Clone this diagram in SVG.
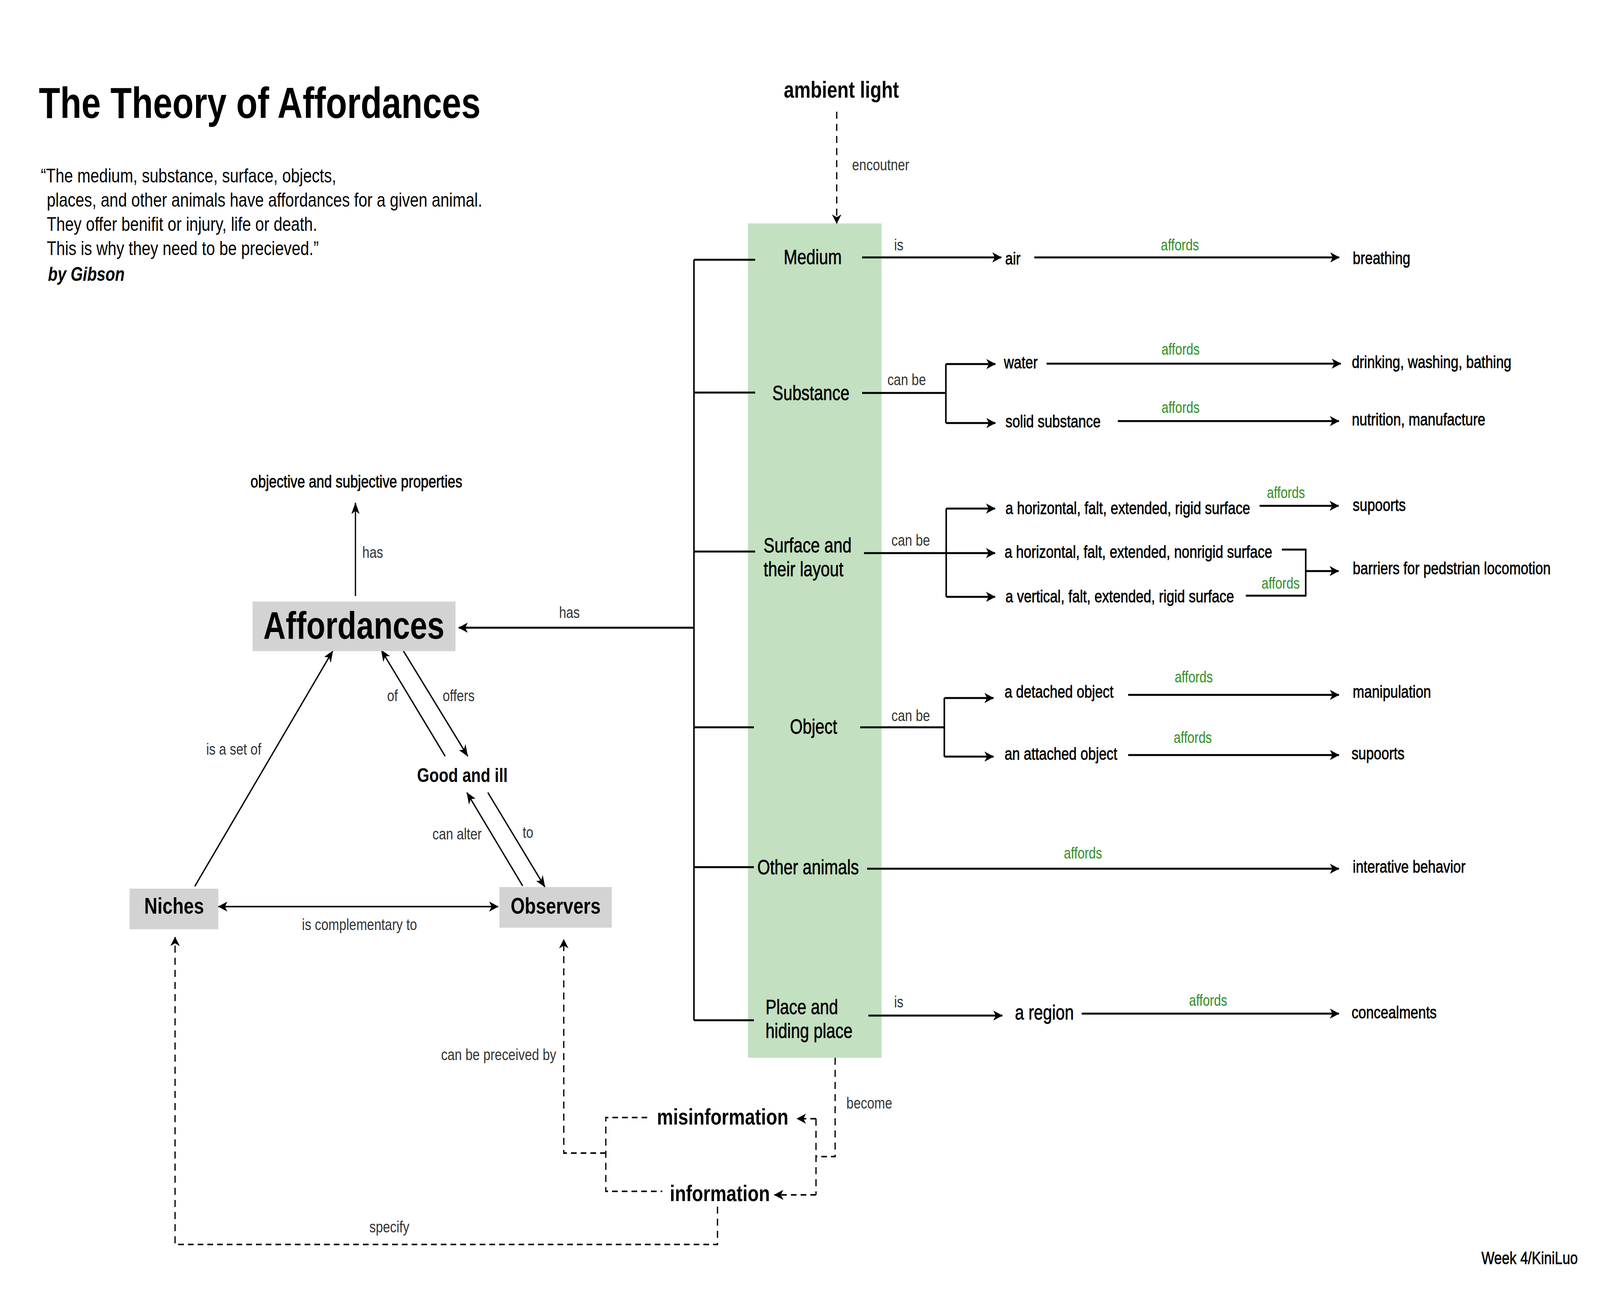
<svg xmlns="http://www.w3.org/2000/svg" width="5100" height="3300" viewBox="0 0 5100 3300" preserveAspectRatio="none">
<style>
:root{width:100vw;height:100vh;}
text{font-family:"Liberation Sans",Arial,Helvetica,sans-serif;}
.title{font-size:111px;font-weight:bold;fill:#000;}
.quote{font-size:50px;fill:#000;}
.node{font-size:44px;fill:#000;stroke:#000;stroke-width:0.9;}
.gn{font-size:52px;fill:#000;stroke:#000;stroke-width:0.9;}
.big{font-weight:bold;fill:#000;}
.lbl{font-size:41px;fill:#333;}
.aff{font-size:40px;fill:#2f8f24;text-anchor:middle;}
.mid{text-anchor:middle;}
.ln{stroke:#000;stroke-width:5;fill:none;}
.tl{stroke:#000;stroke-width:4;fill:none;}
.dl{stroke:#000;stroke-width:4;fill:none;stroke-dasharray:18 13;}
.box{fill:#d3d3d3;}
</style>
<defs>
<marker id="arr" viewBox="0 0 30 26" refX="29" refY="13" markerWidth="30" markerHeight="26" orient="auto-start-reverse" markerUnits="userSpaceOnUse">
<path d="M0,0 L30,13 L0,26 L8,13 Z" fill="#000"/>
</marker>
<marker id="arrs" viewBox="0 0 24 30" refX="23" refY="15" markerWidth="24" markerHeight="30" orient="auto-start-reverse" markerUnits="userSpaceOnUse">
<path d="M0,0 L24,15 L0,30 L7,15 Z" fill="#000"/>
</marker>
</defs>
<rect width="5100" height="3300" fill="#fff"/>

<g id="title">
<text class="title" x="124" y="302">The Theory of Affordances</text>
</g>
<g id="quote">
<text class="quote" x="130" y="467">“The medium, substance, surface, objects,</text>
<text class="quote" x="149" y="529">places, and other animals have affordances for a given animal.</text>
<text class="quote" x="149" y="591">They offer benifit or injury, life or death.</text>
<text class="quote" x="149" y="653">This is why they need to be precieved.”</text>
<text class="quote" x="153" y="719" font-weight="bold" font-style="italic">by Gibson</text>
</g>

<rect id="green-column" x="2384" y="572" width="426" height="2136" fill="#c3e0c1"/>

<g id="connectors">
<path class="dl" d="M2667,286 V572" marker-end="url(#arrs)"/>
<path class="ln" d="M2212,665 V2612"/>
<path class="ln" d="M2212,665 H2407 M2212,1005 H2407 M2212,1412 H2407 M2212,1862 H2403 M2212,2220 H2403 M2212,2612 H2403"/>
<path class="ln" d="M2212,1607 H1462" marker-end="url(#arr)"/>
<path class="ln" d="M2748,659 H3192" marker-end="url(#arr)"/>
<path class="ln" d="M3297,659 H4269" marker-end="url(#arr)"/>
<path class="ln" d="M2748,1006 H3015 M3015,932 V1083"/>
<path class="ln" d="M3015,932 H3173" marker-end="url(#arr)"/>
<path class="ln" d="M3015,1083 H3173" marker-end="url(#arr)"/>
<path class="ln" d="M3336,931 H4274" marker-end="url(#arr)"/>
<path class="ln" d="M3563,1078 H4268" marker-end="url(#arr)"/>
<path class="ln" d="M2754,1416 H3016 M3016,1302 V1528"/>
<path class="ln" d="M3016,1302 H3172" marker-end="url(#arr)"/>
<path class="ln" d="M3016,1416 H3172" marker-end="url(#arr)"/>
<path class="ln" d="M3016,1528 H3172" marker-end="url(#arr)"/>
<path class="ln" d="M4015,1295 H4267" marker-end="url(#arr)"/>
<path class="ln" d="M4086,1407 H4162 V1525 H3971"/>
<path class="ln" d="M4162,1462 H4267" marker-end="url(#arr)"/>
<path class="ln" d="M2742,1862 H3010 M3010,1787 V1937"/>
<path class="ln" d="M3010,1787 H3167" marker-end="url(#arr)"/>
<path class="ln" d="M3010,1937 H3167" marker-end="url(#arr)"/>
<path class="ln" d="M3596,1779 H4268" marker-end="url(#arr)"/>
<path class="ln" d="M3596,1933 H4268" marker-end="url(#arr)"/>
<path class="ln" d="M2764,2224 H4268" marker-end="url(#arr)"/>
<path class="ln" d="M2768,2600 H3195" marker-end="url(#arr)"/>
<path class="ln" d="M3448,2595 H4268" marker-end="url(#arr)"/>
<path class="tl" d="M1133,1526 V1287" marker-end="url(#arr)"/>
<path class="tl" d="M1419,1936 L1215,1664" marker-end="url(#arr)"/>
<path class="tl" d="M1284,1664 L1491,1936" marker-end="url(#arr)"/>
<path class="tl" d="M1666,2268 L1488,2029" marker-end="url(#arr)"/>
<path class="tl" d="M1555,2029 L1737,2271" marker-end="url(#arr)"/>
<path class="tl" d="M621,2269 L1061,1666" marker-end="url(#arr)"/>
<path class="tl" d="M696,2321 H1588" marker-start="url(#arr)" marker-end="url(#arr)"/>
<path class="dl" d="M2287,3089 V3186 H558 V2399" marker-end="url(#arrs)"/>
<path class="dl" d="M1931,2952 H1797 V2405" marker-end="url(#arrs)"/>
<path class="dl" d="M2063,2861 H1931 V3050 H2111"/>
<path class="dl" d="M2662,2708 V2961 H2601"/>
<path class="dl" d="M2601,2864 V3059"/>
<path class="dl" d="M2601,2864 H2540" marker-end="url(#arr)"/>
<path class="dl" d="M2601,3059 H2468" marker-end="url(#arr)"/>
</g>

<g id="edge-labels">
<text class="lbl" x="2716" y="436">encoutner</text>
<text class="lbl" x="2850" y="641">is</text>
<text class="lbl mid" x="2890" y="986">can be</text>
<text class="lbl mid" x="2903" y="1397">can be</text>
<text class="lbl mid" x="2903" y="1846">can be</text>
<text class="lbl" x="2850" y="2579">is</text>
<text class="lbl mid" x="1815" y="1582">has</text>
<text class="lbl" x="1155" y="1428">has</text>
<text class="lbl mid" x="1251" y="1795">of</text>
<text class="lbl mid" x="1462" y="1795">offers</text>
<text class="lbl mid" x="1457" y="2149">can alter</text>
<text class="lbl mid" x="1683" y="2145">to</text>
<text class="lbl mid" x="745" y="1932">is a set of</text>
<text class="lbl mid" x="1146" y="2381">is complementary to</text>
<text class="lbl" x="1773" y="2714" text-anchor="end">can be preceived by</text>
<text class="lbl" x="2698" y="2838">become</text>
<text class="lbl mid" x="1241" y="3155">specify</text>
<text class="aff" x="3761" y="641">affords</text>
<text class="aff" x="3763" y="908">affords</text>
<text class="aff" x="3763" y="1057">affords</text>
<text class="aff" x="4099" y="1275">affords</text>
<text class="aff" x="4082" y="1507">affords</text>
<text class="aff" x="3805" y="1747">affords</text>
<text class="aff" x="3802" y="1902">affords</text>
<text class="aff" x="3452" y="2198">affords</text>
<text class="aff" x="3851" y="2575">affords</text>
</g>

<g id="ambient-light"><text class="big mid" x="2682" y="250" font-size="59">ambient light</text></g>

<g id="medium"><text class="gn" x="2498" y="676">Medium</text></g>
<g id="substance"><text class="gn" x="2462" y="1024">Substance</text></g>
<g id="surface"><text class="gn" x="2434" y="1414">Surface and</text><text class="gn" x="2434" y="1475">their layout</text></g>
<g id="object"><text class="gn" x="2518" y="1878">Object</text></g>
<g id="other-animals"><text class="gn" x="2414" y="2238">Other animals</text></g>
<g id="place"><text class="gn" x="2440" y="2596">Place and</text><text class="gn" x="2440" y="2657">hiding place</text></g>

<g id="air"><text class="node" x="3204" y="677">air</text></g>
<g id="breathing"><text class="node" x="4312" y="676">breathing</text></g>
<g id="water"><text class="node" x="3200" y="943">water</text></g>
<g id="drinking"><text class="node" x="4309" y="942">drinking, washing, bathing</text></g>
<g id="solid"><text class="node" x="3205" y="1094">solid substance</text></g>
<g id="nutrition"><text class="node" x="4309" y="1089">nutrition, manufacture</text></g>
<g id="hrigid"><text class="node" x="3205" y="1316">a horizontal, falt, extended, rigid surface</text></g>
<g id="hnonrigid"><text class="node" x="3202" y="1428">a horizontal, falt, extended, nonrigid surface</text></g>
<g id="vrigid"><text class="node" x="3205" y="1542">a vertical, falt, extended, rigid surface</text></g>
<g id="supoorts1"><text class="node" x="4312" y="1308">supoorts</text></g>
<g id="barriers"><text class="node" x="4312" y="1470">barriers for pedstrian locomotion</text></g>
<g id="detached"><text class="node" x="3202" y="1786">a detached object</text></g>
<g id="attached"><text class="node" x="3202" y="1945">an attached object</text></g>
<g id="manipulation"><text class="node" x="4312" y="1786">manipulation</text></g>
<g id="supoorts2"><text class="node" x="4308" y="1944">supoorts</text></g>
<g id="interative"><text class="node" x="4312" y="2234">interative behavior</text></g>
<g id="region"><text class="gn" x="3235" y="2610">a region</text></g>
<g id="concealments"><text class="node" x="4308" y="2607">concealments</text></g>

<g id="properties"><text class="node mid" x="1136" y="1248">objective and subjective properties</text></g>
<g id="affordances"><rect class="box" x="805" y="1540" width="647" height="127"/><text class="big mid" x="1128" y="1635" font-size="99">Affordances</text></g>
<g id="good-ill"><text class="big mid" x="1474" y="2002" font-size="50">Good and ill</text></g>
<g id="niches"><rect class="box" x="413" y="2275" width="283" height="104"/><text class="big mid" x="555" y="2339" font-size="58">Niches</text></g>
<g id="observers"><rect class="box" x="1592" y="2271" width="358" height="104"/><text class="big mid" x="1771" y="2339" font-size="58">Observers</text></g>
<g id="misinformation"><text class="big" x="2094" y="2879" font-size="58">misinformation</text></g>
<g id="information"><text class="big" x="2135" y="3075" font-size="58">information</text></g>

<g id="footer"><text class="node" x="4722" y="3236" font-size="42">Week 4/KiniLuo</text></g>
</svg>
